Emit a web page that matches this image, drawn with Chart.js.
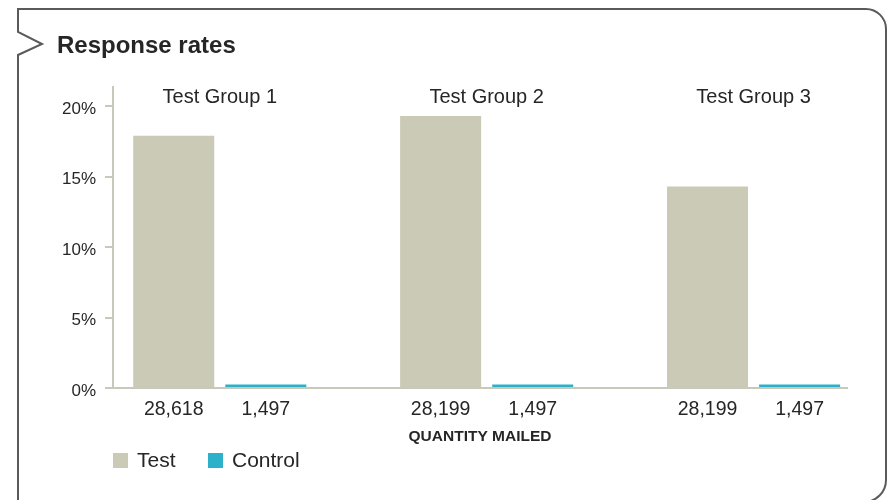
<!DOCTYPE html>
<html>
<head>
<meta charset="utf-8">
<title>Response rates</title>
<script src="https://cdn.jsdelivr.net/npm/chart.js@4.4.0/dist/chart.umd.min.js"></script>
<style>
    html, body { margin: 0; padding: 0; background: #fff; }
    #wrap { width: 888px; height: 500px; }
</style>
</head>
<body>
<div id="wrap"><canvas id="chart" width="888" height="500"></canvas></div>
<script>
// Chart data
const groupLabels = ['Test Group 1', 'Test Group 2', 'Test Group 3'];
const groupIndex = [0, 1, 2];
const testRates = [17.9, 19.3, 14.3];
const controlRates = [0.25, 0.25, 0.25];
const testMailed = ['28,618', '28,199', '28,199'];
const controlMailed = ['1,497', '1,497', '1,497'];
const yTicks = [0, 5, 10, 15, 20];
const seriesNames = ['Test', 'Control'];
const seriesColors = ['#cbcab7', '#2db1cb'];

const FONT = '"Liberation Sans", Arial, sans-serif';
const TEXT = '#262626';
const AXIS = '#c9c9bb';

Chart.defaults.font.family = FONT;

// Outer frame with the little arrow on the left
const framePlugin = {
    id: 'frame',
    beforeDraw(chart) {
        const ctx = chart.ctx;
        ctx.save();
        ctx.strokeStyle = '#5a5a5a';
        ctx.lineWidth = 2;
        ctx.beginPath();
        ctx.moveTo(18, 520);
        ctx.lineTo(18, 55);
        ctx.lineTo(42, 44);
        ctx.lineTo(18, 32);
        ctx.lineTo(18, 9);
        ctx.lineTo(866, 9);
        ctx.arcTo(886, 9, 886, 29, 20);
        ctx.lineTo(886, 480);
        ctx.arcTo(886, 502, 864, 502, 22);
        ctx.stroke();
        ctx.restore();
    }
};

// Title, group names, quantities and legend
const labelsPlugin = {
    id: 'labels',
    afterDraw(chart) {
        const ctx = chart.ctx;
        const xScale = chart.scales.x;
        const area = chart.chartArea;
        ctx.save();
        ctx.fillStyle = TEXT;
        ctx.textBaseline = 'middle';

        ctx.font = 'bold 24px ' + FONT;
        ctx.textAlign = 'left';
        ctx.fillText('Response rates', 57, 46);

        ctx.textAlign = 'center';
        ctx.font = '20px ' + FONT;
        groupLabels.forEach((name, i) => {
            ctx.fillText(name, xScale.getPixelForValue(groupIndex[i]), 97);
        });

        const testBars = chart.getDatasetMeta(0).data;
        const controlBars = chart.getDatasetMeta(1).data;
        ctx.font = '19.5px ' + FONT;
        testBars.forEach((bar, i) => ctx.fillText(testMailed[i], bar.x, 410));
        controlBars.forEach((bar, i) => ctx.fillText(controlMailed[i], bar.x, 410));

        ctx.font = 'bold 15.5px ' + FONT;
        ctx.fillText('QUANTITY MAILED', (area.left + area.right) / 2, 437);

        // legend
        ctx.textAlign = 'left';
        ctx.font = '21px ' + FONT;
        const legendX = [113, 208];
        seriesNames.forEach((name, i) => {
            ctx.fillStyle = seriesColors[i];
            ctx.fillRect(legendX[i], 453, 15, 15);
            ctx.fillStyle = TEXT;
            ctx.fillText(name, legendX[i] + 24, 461);
        });
        ctx.restore();
    }
};

const ctx = document.getElementById('chart').getContext('2d');
const chart = new Chart(ctx, {
    type: 'bar',
    data: {
        datasets: [{
            label: seriesNames[0],
            data: groupIndex.map((x, i) => ({ x: x, y: testRates[i] })),
            backgroundColor: seriesColors[0]
        }, {
            label: seriesNames[1],
            data: groupIndex.map((x, i) => ({ x: x, y: controlRates[i] })),
            backgroundColor: seriesColors[1]
        }]
    },
    options: {
        responsive: false,
        animation: false,
        layout: {
            padding: { left: 0, right: 41, top: 87, bottom: 112 }
        },
        datasets: {
            bar: { categoryPercentage: 0.69, barPercentage: 0.88 }
        },
        plugins: {
            legend: { display: false },
            tooltip: { enabled: false }
        },
        scales: {
            x: {
                type: 'linear',
                min: -0.4,
                max: 2.35,
                offset: false,
                grid: { display: false },
                border: { display: true, color: AXIS, width: 2 },
                ticks: { display: false },
                afterBuildTicks: scale => {
                    scale.ticks = groupIndex.map(v => ({ value: v }));
                },
                afterFit: scale => { scale.height = 0; }
            },
            y: {
                min: 0,
                max: 21.35,
                afterBuildTicks: scale => {
                    scale.ticks = yTicks.map(v => ({ value: v }));
                },
                afterFit: scale => { scale.width = 113; },
                grid: { drawOnChartArea: false, tickLength: 8, color: AXIS, lineWidth: 2 },
                border: { color: AXIS, width: 2 },
                ticks: {
                    padding: 9,
                    labelOffset: 3,
                    color: TEXT,
                    font: { size: 17 },
                    callback: value => value + '%'
                }
            }
        }
    },
    plugins: [framePlugin, labelsPlugin]
});
</script>
</body>
</html>
